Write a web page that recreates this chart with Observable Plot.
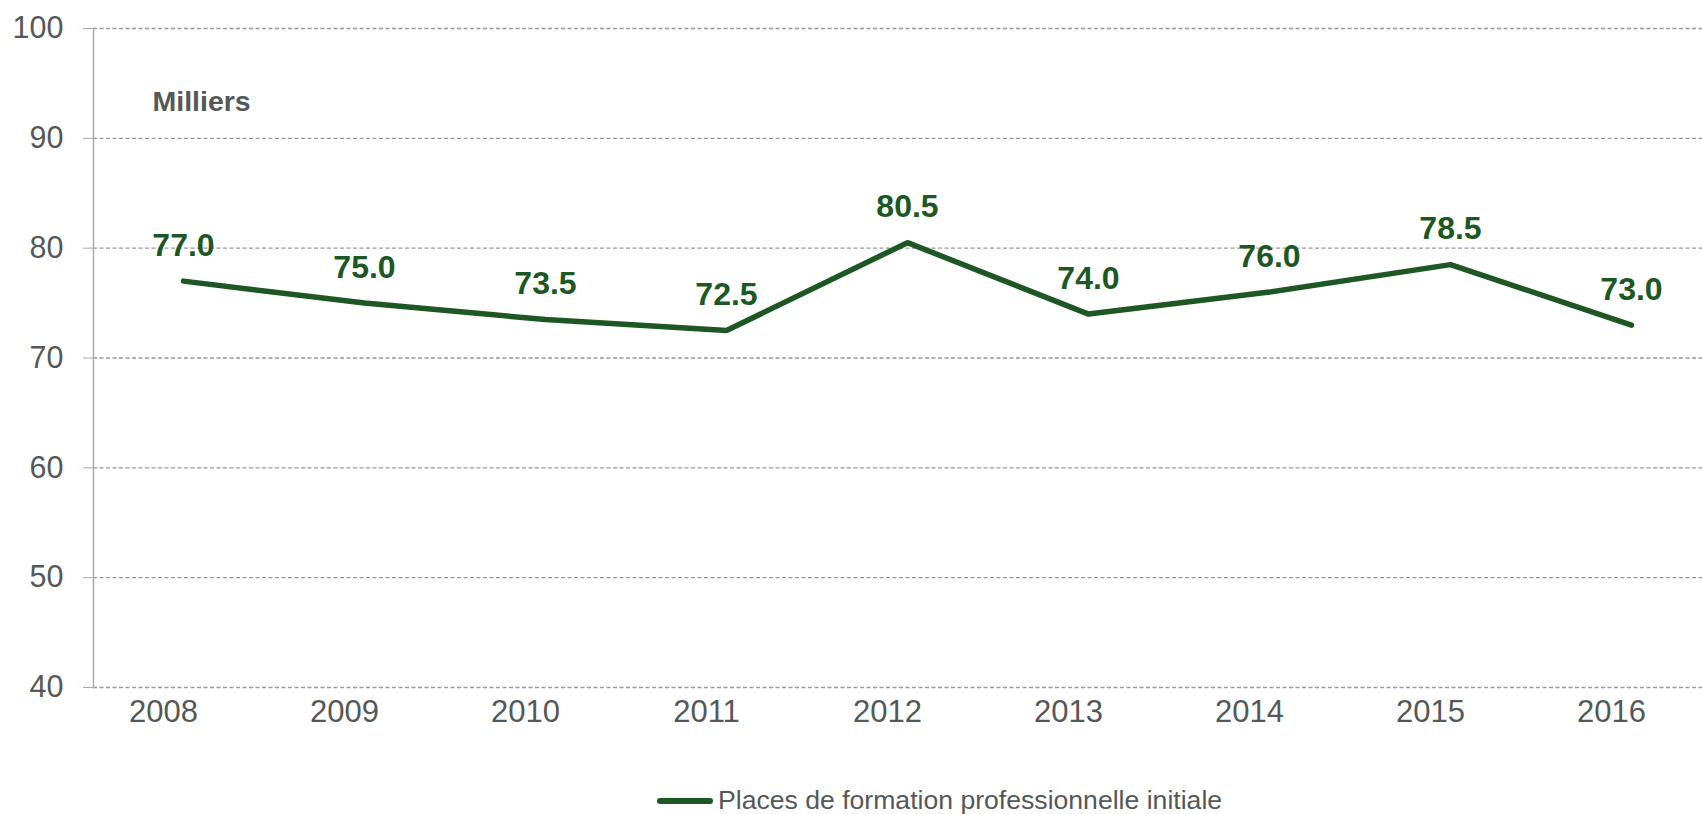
<!DOCTYPE html>
<html>
<head>
<meta charset="utf-8">
<script src="https://cdn.jsdelivr.net/npm/d3@7"></script>
<script src="https://cdn.jsdelivr.net/npm/@observablehq/plot@0.6"></script>
<style>
  html, body { margin: 0; padding: 0; background: #ffffff; }
  body { width: 1702px; height: 814px; overflow: hidden; font-family: "Liberation Sans", Arial, sans-serif; }
  #legend { position: relative; height: 44px; }
  #legend .swatch { position: absolute; left: 657px; top: 28px; width: 56px; height: 6px; border-radius: 3px; background: #1d5724; }
  #legend .label { position: absolute; left: 718px; top: 15px; font-size: 26.6px; line-height: 30px; color: #555858; white-space: nowrap; }
</style>
</head>
<body>
<div id="chart"></div>
<div id="legend"><span class="swatch"></span><span class="label">Places de formation professionnelle initiale</span></div>
<script>
const years = ["2008", "2009", "2010", "2011", "2012", "2013", "2014", "2015", "2016"];
const values = [77.0, 75.0, 73.5, 72.5, 80.5, 74.0, 76.0, 78.5, 73.0];
const yTicks = [40, 50, 60, 70, 80, 90, 100];
const unitLabel = ["Milliers"];

const data = years.map((year, i) => ({year, value: values[i]}));
const green = "#1d5724";
const grey = "#555858";

const chart = Plot.plot({
  width: 1702,
  height: 770,
  marginLeft: 93,
  marginRight: 0,
  marginTop: 28,
  marginBottom: 83,
  style: {fontFamily: "'Liberation Sans', Arial, sans-serif", background: "#ffffff", overflow: "visible"},
  x: {type: "point", domain: years, range: [181.7, 1632], padding: 0},
  y: {domain: [40, 100], range: [687, 28]},
  marks: [
    Plot.ruleY(yTicks, {stroke: "#9a9a9a", strokeWidth: 1.3, strokeDasharray: "4,2.5"}),
    Plot.frame({anchor: "left", stroke: "#ababab", strokeWidth: 1.5}),
    Plot.axisY({ticks: yTicks, tickSize: 10, tickPadding: 20, fontSize: 30.5, stroke: "#ababab", fill: grey, tickFormat: d => String(d), label: null}),
    Plot.axisX({tickSize: 0, tickPadding: 12, fontSize: 31, fill: grey, dx: -20, label: null}),
    Plot.text(unitLabel, {frameAnchor: "top-left", textAnchor: "start", lineAnchor: "top", dx: 59, dy: 62, fontSize: 28.5, fontWeight: "bold", fill: grey}),
    Plot.line(data, {x: "year", y: "value", stroke: green, strokeWidth: 5.5, strokeLinecap: "round", strokeLinejoin: "miter"}),
    Plot.text(data, {x: "year", y: "value", text: d => d.value.toFixed(1), lineAnchor: "top", dy: -48, fontSize: 32, fontWeight: "bold", fill: green})
  ]
});
document.getElementById("chart").appendChild(chart);
</script>
</body>
</html>
